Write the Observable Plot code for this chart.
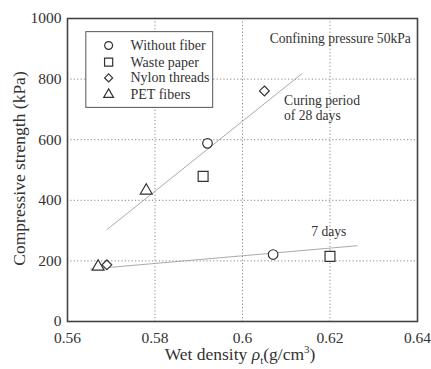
<!DOCTYPE html>
<html>
<head>
<meta charset="utf-8">
<script src="https://cdn.jsdelivr.net/npm/d3@7"></script>
<script src="https://cdn.jsdelivr.net/npm/@observablehq/plot@0.6"></script>
<style>
  html, body { margin: 0; padding: 0; background: #fff; }
  #chart svg { display: block; }
</style>
</head>
<body>
<div id="chart"></div>
<script>
// ---- data ----
const materials = ["Without fiber", "Waste paper", "Nylon threads", "PET fibers"];
const symbols = ["circle", "square2", "diamond2", "triangle2"];
const symbolR = [4.8, 6.3, 4.4, 5.7];
// curing period 28 days
const density28 = [0.592, 0.591, 0.605, 0.578];
const strength28 = [588, 479, 761, 432];
// curing period 7 days
const density7 = [0.607, 0.620, 0.569, 0.567];
const strength7 = [221, 215, 187, 181];
// fitted trend lines (end points)
const fit28Density = [0.569, 0.6136];
const fit28Strength = [303, 818];
const fit7Density = [0.5653, 0.6262];
const fit7Strength = [173, 250];
// axes
const xTicks = [0.56, 0.58, 0.60, 0.62, 0.64];
const yTicks = [0, 200, 400, 600, 800, 1000];
const xGrid = [0.58, 0.60, 0.62];
const yGrid = [200, 400, 600, 800];
// annotations
const notes = [
  {x: 0.6062, y: 934, text: "Confining pressure 50kPa"},
  {x: 0.6095, y: 728, text: "Curing period"},
  {x: 0.6095, y: 680, text: "of 28 days"},
  {x: 0.6157, y: 297, text: "7 days"}
];
// legend layout (in data units)
const legendRowsY = [911, 856, 804, 749];
const legendSymX = 0.5694, legendTextX = 0.5744;
const legendBox = {x1: 0.5643, x2: 0.5933, y1: 705, y2: 955};

const FONT = "Liberation Serif";
const INK = "#333";

const fit28 = fit28Density.map((d, i) => ({x: d, y: fit28Strength[i]}));
const fit7 = fit7Density.map((d, i) => ({x: d, y: fit7Strength[i]}));

const pointMarks = [];
materials.forEach((m, i) => {
  const pts = [
    {x: density28[i], y: strength28[i]},
    {x: density7[i], y: strength7[i]}
  ];
  pointMarks.push(Plot.dot(pts, {x: "x", y: "y", symbol: () => symbols[i], r: symbolR[i],
    stroke: INK, strokeWidth: 1.2, fill: "white"}));
  pointMarks.push(Plot.dot([{x: legendSymX, y: legendRowsY[i]}], {x: "x", y: "y", symbol: () => symbols[i],
    r: symbolR[i] * 0.82, stroke: INK, strokeWidth: 1.2, fill: "white"}));
});

const plot = Plot.plot({
  width: 431,
  height: 369,
  marginLeft: 67,
  marginRight: 14,
  marginTop: 18,
  marginBottom: 48,
  style: {fontFamily: FONT, fontSize: "15.5px", background: "white", color: INK},
  x: {domain: [0.56, 0.64], ticks: xTicks, tickFormat: d => String(+d.toFixed(2)), tickSize: 0, tickPadding: 10, label: null},
  y: {domain: [0, 1000], ticks: yTicks, tickFormat: d => String(d), tickSize: 0, tickPadding: 6, label: null},
  symbol: {type: "identity"},
  marks: [
    Plot.ruleX(xGrid, {stroke: "#888", strokeWidth: 1, strokeDasharray: "1.2,2.2"}),
    Plot.ruleY(yGrid, {stroke: "#888", strokeWidth: 1, strokeDasharray: "1.2,2.2"}),
    Plot.line(fit28, {x: "x", y: "y", stroke: "#aaa", strokeWidth: 1}),
    Plot.line(fit7, {x: "x", y: "y", stroke: "#aaa", strokeWidth: 1}),
    Plot.rect([legendBox], {x1: "x1", x2: "x2", y1: "y1", y2: "y2", fill: "white", stroke: "#555", strokeWidth: 1}),
    ...pointMarks,
    Plot.text(materials.map((m, i) => ({x: legendTextX, y: legendRowsY[i], t: m})),
      {x: "x", y: "y", text: "t", textAnchor: "start", fontSize: 14, fill: INK}),
    Plot.text(notes, {x: "x", y: "y", text: "text", textAnchor: "start", fontSize: 13.6, fill: INK}),
    Plot.frame({stroke: "#444", strokeWidth: 1.6})
  ]
});

document.getElementById("chart").appendChild(plot);

// axis titles with sub/superscripts
const svg = d3.select(plot);
const xr = plot.scale("x").range;
const yr = plot.scale("y").range;
const xt = svg.append("text")
  .attr("x", (xr[0] + xr[1]) / 2 - 2)
  .attr("y", 360)
  .attr("text-anchor", "middle")
  .attr("font-family", FONT)
  .attr("font-size", 17.5)
  .attr("fill", INK);
xt.append("tspan").text("Wet density ");
xt.append("tspan").attr("font-style", "italic").text("ρ");
xt.append("tspan").attr("font-size", 11).attr("dy", 4).text("t");
xt.append("tspan").attr("dy", -4).text("(g/cm");
xt.append("tspan").attr("font-size", 11).attr("dy", -7).text("3");
xt.append("tspan").attr("dy", 7).text(")");

svg.append("text")
  .attr("transform", `translate(25,${(yr[0] + yr[1]) / 2 - 1}) rotate(-90)`)
  .attr("text-anchor", "middle")
  .attr("font-family", FONT)
  .attr("font-size", 17.5)
  .attr("fill", INK)
  .text("Compressive strength (kPa)");
</script>
</body>
</html>
